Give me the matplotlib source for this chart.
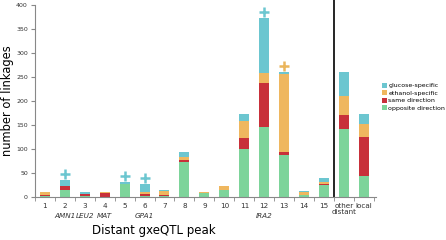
import matplotlib
matplotlib.use("Agg")
import matplotlib.pyplot as plt
import numpy as np

labels = ["1", "2", "3", "4", "5", "6", "7", "8", "9", "10", "11", "12", "13",
          "14", "15", "other\ndistant", "local"]
genes = ["", "AMN1", "LEU2", "MAT", "", "GPA1", "", "", "", "", "", "IRA2", "",
         "", "", "", ""]

opposite = [2, 15, 2, 1, 27, 3, 3, 73, 9, 15, 100, 145, 88, 4, 26, 141, 43]
same = [3, 8, 4, 8, 0, 4, 1, 4, 0, 0, 24, 92, 5, 1, 1, 30, 83]
ethanol = [5, 1, 1, 1, 0, 3, 9, 7, 1, 7, 35, 21, 163, 6, 5, 40, 27]
glucose = [0, 12, 3, 0, 4, 17, 1, 9, 0, 0, 15, 114, 4, 1, 7, 50, 20]

# '+' marks above peaks
plus_x = [2, 5, 6, 12, 13]
plus_y = [48, 44, 39, 385, 273]
plus_c = ["#6cc6d0", "#6cc6d0", "#6cc6d0", "#6cc6d0", "#eab55c"]

c_gluc = "#6cc6d0"
c_eth = "#efb75f"
c_same = "#c8303a"
c_opp = "#7dd49a"

x = np.arange(1, len(labels) + 1)
opposite = np.array(opposite)
same = np.array(same)
ethanol = np.array(ethanol)
glucose = np.array(glucose)

fig = plt.figure(figsize=(4.46, 2.4), dpi=100)
ax = fig.add_axes([0.078, 0.179, 0.765, 0.8])

w = 0.5
ax.bar(x, opposite, w, color=c_opp, label="opposite direction")
ax.bar(x, same, w, bottom=opposite, color=c_same, label="same direction")
ax.bar(x, ethanol, w, bottom=opposite + same, color=c_eth, label="ethanol-specific")
ax.bar(x, glucose, w, bottom=opposite + same + ethanol, color=c_gluc,
       label="glucose-specific")

for px, py, pc in zip(plus_x, plus_y, plus_c):
    ax.plot(px, py, marker="+", color=pc, markersize=7, mew=1.8)

ax.axvline(15.5, color="black", lw=1.2, ymin=0, ymax=1.05, clip_on=False)

ax.set_xlim(0.55, 17.6)
ax.set_ylim(0, 400)
ax.set_yticks(range(0, 401, 50))
ax.tick_params(axis="y", labelsize=4.5, length=3, pad=2, color="#888888",
               labelcolor="#333333")
ax.set_xticks(x)
ax.set_xticklabels(labels, fontsize=5.2, color="#333333", linespacing=1.1)
ax.set_xticks(np.arange(0.5, 17.6, 1), minor=True)
ax.tick_params(axis="x", which="major", length=0, pad=4)
ax.tick_params(axis="x", which="minor", length=3, color="#888888")

for xi, g in zip(x, genes):
    if g:
        ax.text(xi, -0.085, g, transform=ax.get_xaxis_transform(), ha="center",
                va="top", fontsize=5.2, style="italic", color="#333333")

for s in ["top", "right"]:
    ax.spines[s].set_visible(False)
for s in ["left", "bottom"]:
    ax.spines[s].set_color("#888888")
    ax.spines[s].set_linewidth(0.8)

ax.set_ylabel("number of linkages", fontsize=8.3)
ax.yaxis.set_label_coords(-0.062, 0.5)
ax.set_xlabel("Distant gxeQTL peak", fontsize=8.5)
ax.xaxis.set_label_coords(0.35, -0.14)
ax.xaxis.label.set_va("top")

h, l = ax.get_legend_handles_labels()
fig.legend(h[::-1], l[::-1], loc="upper left", bbox_to_anchor=(0.85, 0.665),
           frameon=False, fontsize=4.5, handlelength=0.8, handleheight=0.8,
           handletextpad=0.3, labelspacing=0.3, borderaxespad=0)

fig.savefig("out.png", dpi=100)
